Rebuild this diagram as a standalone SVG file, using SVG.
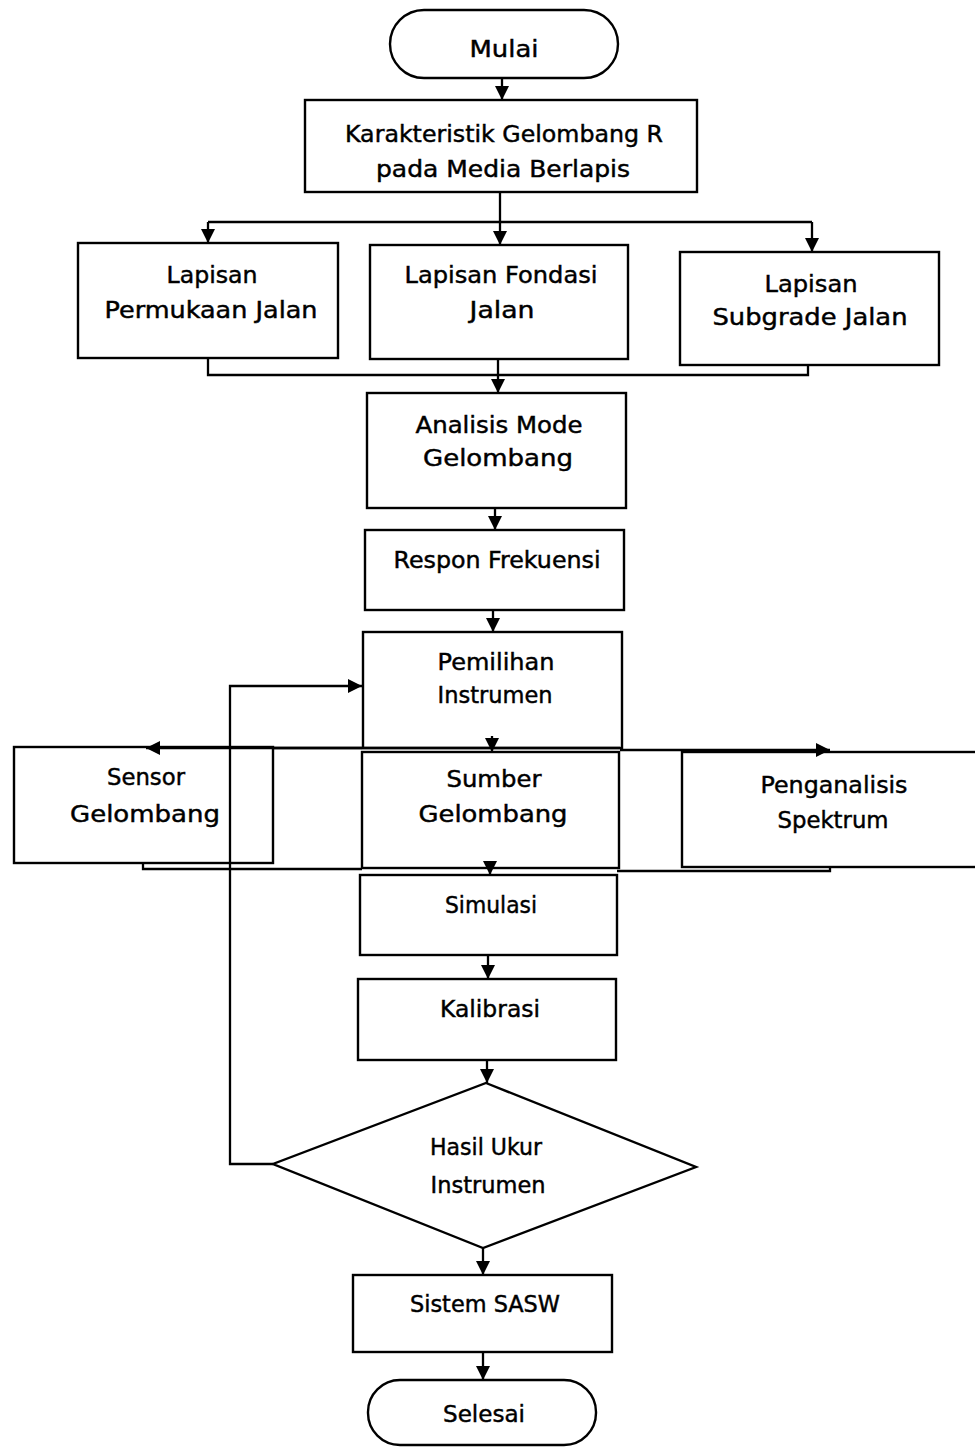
<svg xmlns="http://www.w3.org/2000/svg" width="975" height="1447" viewBox="0 0 975 1447">
  <style>
    .box { fill: #ffffff; stroke: #000000; stroke-width: 2.4; }
    .link { fill: none; stroke: #000000; stroke-width: 2.3; }
    .lbl { font-family: "DejaVu Sans", "Liberation Sans", sans-serif; font-size: 23px; fill: #000000; stroke: #000000; stroke-width: 0.45; text-anchor: middle; }
  </style>
  <defs>
    <marker id="arrow" markerUnits="userSpaceOnUse" markerWidth="16" markerHeight="16" refX="14" refY="7" orient="auto">
      <path d="M0,0 L14,7 L0,14 z" fill="#000000"/>
    </marker>
  </defs>

  <rect width="975" height="1447" fill="#ffffff"/>

  <g id="mulai">
    <rect class="box" x="390" y="10" width="228" height="68" rx="34" ry="34"/>
    <text class="lbl" x="504" y="57" textLength="69" lengthAdjust="spacingAndGlyphs">Mulai</text>
  </g>

  <g id="karakteristik">
    <rect class="box" x="305" y="100" width="392" height="92"/>
    <text class="lbl" x="504" y="142" textLength="318" lengthAdjust="spacingAndGlyphs">Karakteristik Gelombang R</text>
    <text class="lbl" x="503" y="177" textLength="254" lengthAdjust="spacingAndGlyphs">pada Media Berlapis</text>
  </g>

  <g id="lapisan-permukaan">
    <rect class="box" x="78" y="243" width="260" height="115"/>
    <text class="lbl" x="212" y="283" textLength="91" lengthAdjust="spacingAndGlyphs">Lapisan</text>
    <text class="lbl" x="211" y="318" textLength="213" lengthAdjust="spacingAndGlyphs">Permukaan Jalan</text>
  </g>

  <g id="lapisan-fondasi">
    <rect class="box" x="370" y="245" width="258" height="114"/>
    <text class="lbl" x="501" y="283" textLength="193" lengthAdjust="spacingAndGlyphs">Lapisan Fondasi</text>
    <text class="lbl" x="502" y="318" textLength="65" lengthAdjust="spacingAndGlyphs">Jalan</text>
  </g>

  <g id="lapisan-subgrade">
    <rect class="box" x="680" y="252" width="259" height="113"/>
    <text class="lbl" x="811" y="292" textLength="93" lengthAdjust="spacingAndGlyphs">Lapisan</text>
    <text class="lbl" x="810" y="325" textLength="195" lengthAdjust="spacingAndGlyphs">Subgrade Jalan</text>
  </g>

  <g id="analisis-mode">
    <rect class="box" x="367" y="393" width="259" height="115"/>
    <text class="lbl" x="499" y="433" textLength="167" lengthAdjust="spacingAndGlyphs">Analisis Mode</text>
    <text class="lbl" x="498" y="466" textLength="150" lengthAdjust="spacingAndGlyphs">Gelombang</text>
  </g>

  <g id="respon-frekuensi">
    <rect class="box" x="365" y="530" width="259" height="80"/>
    <text class="lbl" x="497" y="568" textLength="207" lengthAdjust="spacingAndGlyphs">Respon Frekuensi</text>
  </g>

  <g id="pemilihan-instrumen">
    <rect class="box" x="363" y="632" width="259" height="116"/>
    <text class="lbl" x="496" y="670" textLength="117" lengthAdjust="spacingAndGlyphs">Pemilihan</text>
    <text class="lbl" x="495" y="703" textLength="115" lengthAdjust="spacingAndGlyphs">Instrumen</text>
  </g>

  <g id="sumber-gelombang">
    <rect class="box" x="362" y="752" width="257" height="116"/>
    <text class="lbl" x="494" y="787" textLength="95" lengthAdjust="spacingAndGlyphs">Sumber</text>
    <text class="lbl" x="493" y="822" textLength="149" lengthAdjust="spacingAndGlyphs">Gelombang</text>
  </g>

  <g id="sensor-gelombang">
    <rect class="box" x="14" y="747" width="259" height="116"/>
    <text class="lbl" x="146" y="785" textLength="78" lengthAdjust="spacingAndGlyphs">Sensor</text>
    <text class="lbl" x="145" y="822" textLength="150" lengthAdjust="spacingAndGlyphs">Gelombang</text>
  </g>

  <g id="penganalisis-spektrum">
    <rect class="box" x="682" y="752" width="320" height="115"/>
    <text class="lbl" x="834" y="793" textLength="147" lengthAdjust="spacingAndGlyphs">Penganalisis</text>
    <text class="lbl" x="833" y="828" textLength="111" lengthAdjust="spacingAndGlyphs">Spektrum</text>
  </g>

  <g id="simulasi">
    <rect class="box" x="360" y="875" width="257" height="80"/>
    <text class="lbl" x="491" y="913" textLength="92" lengthAdjust="spacingAndGlyphs">Simulasi</text>
  </g>

  <g id="kalibrasi">
    <rect class="box" x="358" y="979" width="258" height="81"/>
    <text class="lbl" x="490" y="1017" textLength="100" lengthAdjust="spacingAndGlyphs">Kalibrasi</text>
  </g>

  <g id="hasil-ukur">
    <polygon class="box" points="486,1083 696,1167 483,1248 273,1164"/>
    <text class="lbl" x="486" y="1155" textLength="112" lengthAdjust="spacingAndGlyphs">Hasil Ukur</text>
    <text class="lbl" x="488" y="1193" textLength="115" lengthAdjust="spacingAndGlyphs">Instrumen</text>
  </g>

  <g id="sistem-sasw">
    <rect class="box" x="353" y="1275" width="259" height="77"/>
    <text class="lbl" x="485" y="1312" textLength="150" lengthAdjust="spacingAndGlyphs">Sistem SASW</text>
  </g>

  <g id="selesai">
    <rect class="box" x="368" y="1380" width="228" height="65" rx="32" ry="32"/>
    <text class="lbl" x="484" y="1422" textLength="82" lengthAdjust="spacingAndGlyphs">Selesai</text>
  </g>

  <!-- connectors, drawn last so lines crossing the side boxes stay visible -->
  <g id="connectors">
    <path class="link" d="M502,78 V100" marker-end="url(#arrow)"/>
    <path class="link" d="M500,192 V245" marker-end="url(#arrow)"/>
    <path class="link" d="M208,222 H812"/>
    <path class="link" d="M208,222 V243" marker-end="url(#arrow)"/>
    <path class="link" d="M812,222 V252" marker-end="url(#arrow)"/>
    <path class="link" d="M208,358 V375 H808 V365"/>
    <path class="link" d="M498,359 V393" marker-end="url(#arrow)"/>
    <path class="link" d="M495,508 V530" marker-end="url(#arrow)"/>
    <path class="link" d="M493,610 V632" marker-end="url(#arrow)"/>
    <path class="link" d="M492,736 V752" marker-end="url(#arrow)"/>
    <path class="link" d="M620,748 H273"/>
    <path class="link" d="M362,748 H146" marker-end="url(#arrow)"/>
    <path class="link" d="M620,750 H830" marker-end="url(#arrow)"/>
    <path class="link" d="M143,863 V869 H362"/>
    <path class="link" d="M830,866 V871 H617"/>
    <path class="link" d="M490,862 V875" marker-end="url(#arrow)"/>
    <path class="link" d="M488,955 V979" marker-end="url(#arrow)"/>
    <path class="link" d="M487,1060 V1083" marker-end="url(#arrow)"/>
    <path class="link" d="M483,1248 V1275" marker-end="url(#arrow)"/>
    <path class="link" d="M483,1352 V1380" marker-end="url(#arrow)"/>
    <path class="link" d="M273,1164 H230 V686 H362" marker-end="url(#arrow)"/>
  </g>
</svg>
